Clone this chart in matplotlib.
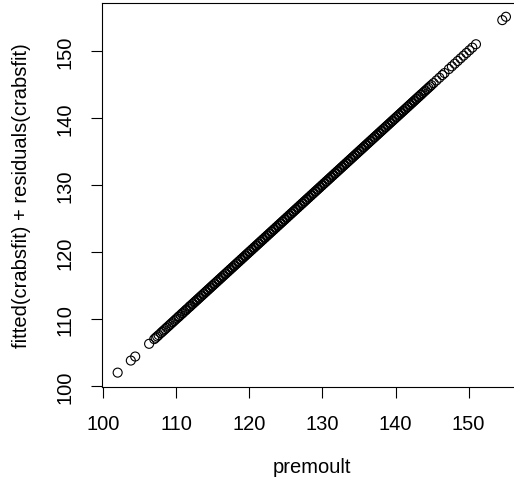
import matplotlib
matplotlib.use("Agg")
import matplotlib.pyplot as plt

# premoult values (dense band approximated by hand-read values)
premoult = [
    102.0, 103.8, 104.4, 106.3, 107.0, 107.2, 107.4, 107.6, 107.9, 108.1, 108.3,
    108.5, 108.7, 108.9, 109.1, 109.3, 109.5, 109.7, 109.9,
    110.1, 110.3, 110.4, 110.6, 110.8, 110.9, 111.1, 111.3, 111.4, 111.6, 111.8, 111.9,
    112.0, 112.2, 112.3, 112.5, 112.6, 112.8, 112.9, 113.1, 113.2, 113.4, 113.5, 113.7, 113.8,
    114.0, 114.1, 114.3, 114.4, 114.6, 114.7, 114.9, 115.0, 115.2, 115.3, 115.5, 115.6, 115.8,
    115.9, 116.1, 116.2, 116.4, 116.5, 116.7, 116.8, 117.0, 117.1, 117.3, 117.4, 117.6, 117.7,
    117.9, 118.0, 118.2, 118.3, 118.5, 118.6, 118.8, 118.9, 119.1, 119.2, 119.4, 119.5, 119.7,
    119.8, 120.0, 120.1, 120.3, 120.4, 120.6, 120.7, 120.9, 121.0, 121.2, 121.3, 121.5, 121.6,
    121.8, 121.9, 122.1, 122.2, 122.4, 122.5, 122.7, 122.8, 123.0, 123.1, 123.3, 123.4, 123.6,
    123.7, 123.9, 124.0, 124.2, 124.3, 124.5, 124.6, 124.8, 124.9, 125.1, 125.2, 125.4, 125.5,
    125.7, 125.8, 126.0, 126.1, 126.3, 126.4, 126.6, 126.7, 126.9, 127.0, 127.2, 127.3, 127.5,
    127.6, 127.8, 127.9, 128.1, 128.2, 128.4, 128.5, 128.7, 128.8, 129.0, 129.1, 129.3, 129.4,
    129.6, 129.7, 129.9, 130.0, 130.2, 130.3, 130.5, 130.6, 130.8, 130.9, 131.1, 131.2, 131.4,
    131.5, 131.7, 131.8, 132.0, 132.1, 132.3, 132.4, 132.6, 132.7, 132.9, 133.0, 133.2, 133.3,
    133.5, 133.6, 133.8, 133.9, 134.1, 134.2, 134.4, 134.5, 134.7, 134.8, 135.0, 135.1, 135.3,
    135.4, 135.6, 135.7, 135.9, 136.0, 136.2, 136.3, 136.5, 136.6, 136.8, 136.9, 137.1, 137.2,
    137.4, 137.5, 137.7, 137.8, 138.0, 138.1, 138.3, 138.4, 138.6, 138.7, 138.9, 139.0, 139.2,
    139.3, 139.5, 139.6, 139.8, 139.9, 140.1, 140.2, 140.4, 140.5, 140.7, 140.8, 141.0, 141.1,
    141.3, 141.4, 141.6, 141.7, 141.9, 142.0, 142.2, 142.3, 142.5, 142.6, 142.8, 142.9, 143.1,
    143.2, 143.4, 143.5, 143.7, 143.9, 144.1, 144.3, 144.5, 144.7, 144.9,
    145.2, 145.6, 146.0, 146.4, 146.7, 147.3, 147.7, 148.1, 148.5, 148.9, 149.3,
    149.7, 150.1, 150.5, 151.0, 154.6, 155.1,
]
# fitted(crabsfit) + residuals(crabsfit) reproduces the response exactly
fitted_plus_resid = list(premoult)

x_ticks = [100, 110, 120, 130, 140, 150]
y_ticks = [100, 110, 120, 130, 140, 150]
x_label = "premoult"
y_label = "fitted(crabsfit) + residuals(crabsfit)"

plt.rcParams['font.family'] = ['Liberation Sans', 'DejaVu Sans']

W, H = 514, 489
fig = plt.figure(figsize=(W / 100, H / 100), dpi=100)
ax = fig.add_axes([102.3 / W, 101.3 / H, 419 / W, 384 / H])

ax.scatter(premoult, fitted_plus_resid, s=42, facecolors='none',
           edgecolors='black', linewidths=0.8)

ax.set_xlim(99.9, 157.2)
ax.set_ylim(99.9, 157.2)
ax.set_xticks(x_ticks)
ax.set_yticks(y_ticks)
ax.tick_params(axis='both', direction='out', length=8, width=0.8,
               labelsize=14.5)
ax.tick_params(axis='x', pad=12)
ax.tick_params(axis='y', pad=12)
for lab in ax.get_yticklabels():
    lab.set_rotation(90)
    lab.set_va('center')
for sp in ax.spines.values():
    sp.set_linewidth(0.8)

ax.set_xlabel(x_label, fontsize=14.5, labelpad=17)
ax.set_ylabel(y_label, fontsize=14.5, labelpad=18)

fig.savefig("out.png", dpi=100)
